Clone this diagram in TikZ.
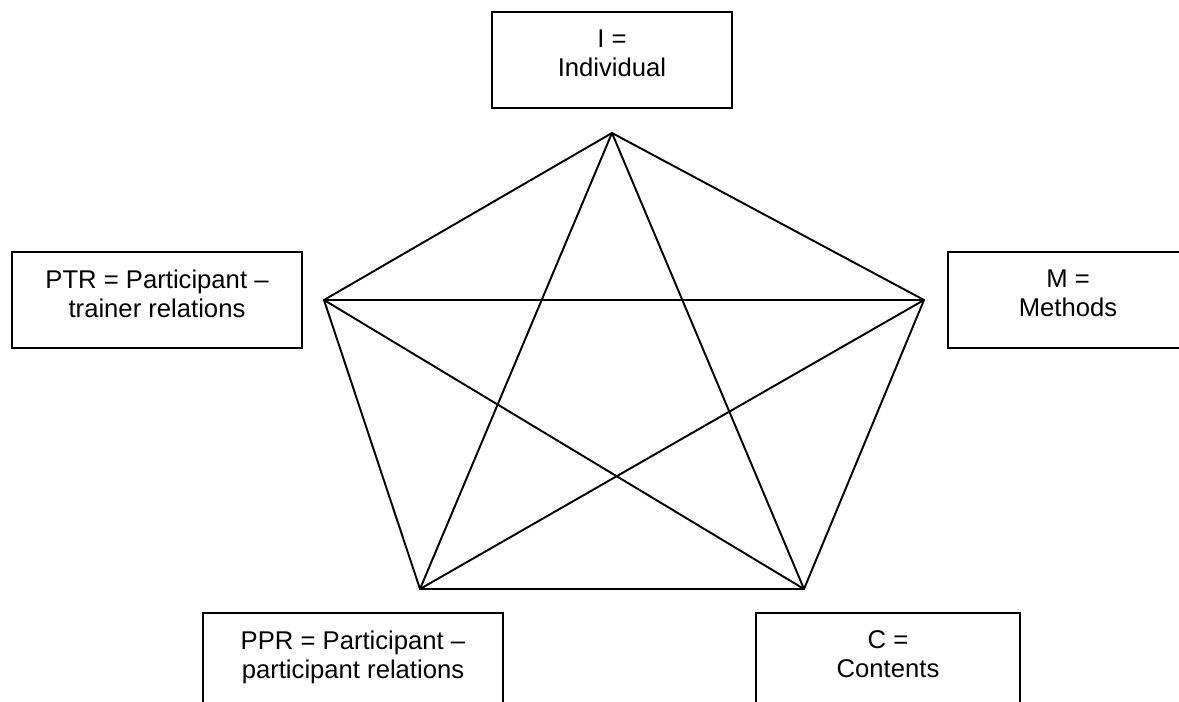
\documentclass[tikz,border=0pt]{standalone}
\usepackage{fontspec}
\setmainfont{Liberation Sans}
\begin{document}
\begin{tikzpicture}[x=0.02cm,y=-0.02cm,
  line width=1.1pt,
  labelbox/.style={draw, line width=1.1pt, rectangle, inner sep=0pt},
  labeltext/.style={anchor=north, inner sep=0pt, align=center, font=\fontsize{14.6}{16.5}\selectfont},
  edge/.style={line width=1.1pt, line cap=round}]
\useasboundingbox (0,0) rectangle (1179,702);
\clip (0,0) rectangle (1179,702);
% boxes
\node[labelbox, minimum width={240*0.02cm}, minimum height={96*0.02cm}] (Ibox) at (612,60) {};
\node[labeltext] (Itxt) at (612,29) {I =\\Individual};
\node[labelbox, minimum width={290*0.02cm}, minimum height={96*0.02cm}] (PTRbox) at (157,300) {};
\node[labeltext] (PTRtxt) at (157,269) {PTR = Participant –\\trainer relations};
\node[labelbox, minimum width={240*0.02cm}, minimum height={96*0.02cm}] (Mbox) at (1068,300) {};
\node[labeltext] (Mtxt) at (1068,269) {M =\\Methods};
\node[labelbox, minimum width={300*0.02cm}, minimum height={96*0.02cm}] (PPRbox) at (353,661) {};
\node[labeltext] (PPRtxt) at (353,630) {PPR = Participant –\\participant relations};
\node[labelbox, minimum width={264*0.02cm}, minimum height={96*0.02cm}] (Cbox) at (888,661) {};
\node[labeltext] (Ctxt) at (888,630) {C =\\Contents};
% pentagon vertices
\coordinate (T) at (612,133);
\coordinate (L) at (324,300);
\coordinate (R) at (924,300);
\coordinate (BL) at (420,589);
\coordinate (BR) at (804,589);
% all connections
\draw[edge] (T) -- (L);
\draw[edge] (T) -- (R);
\draw[edge] (T) -- (BL);
\draw[edge] (T) -- (BR);
\draw[edge] (L) -- (R);
\draw[edge] (L) -- (BL);
\draw[edge] (L) -- (BR);
\draw[edge] (R) -- (BL);
\draw[edge] (R) -- (BR);
\draw[edge] (BL) -- (BR);
\end{tikzpicture}
\end{document}
